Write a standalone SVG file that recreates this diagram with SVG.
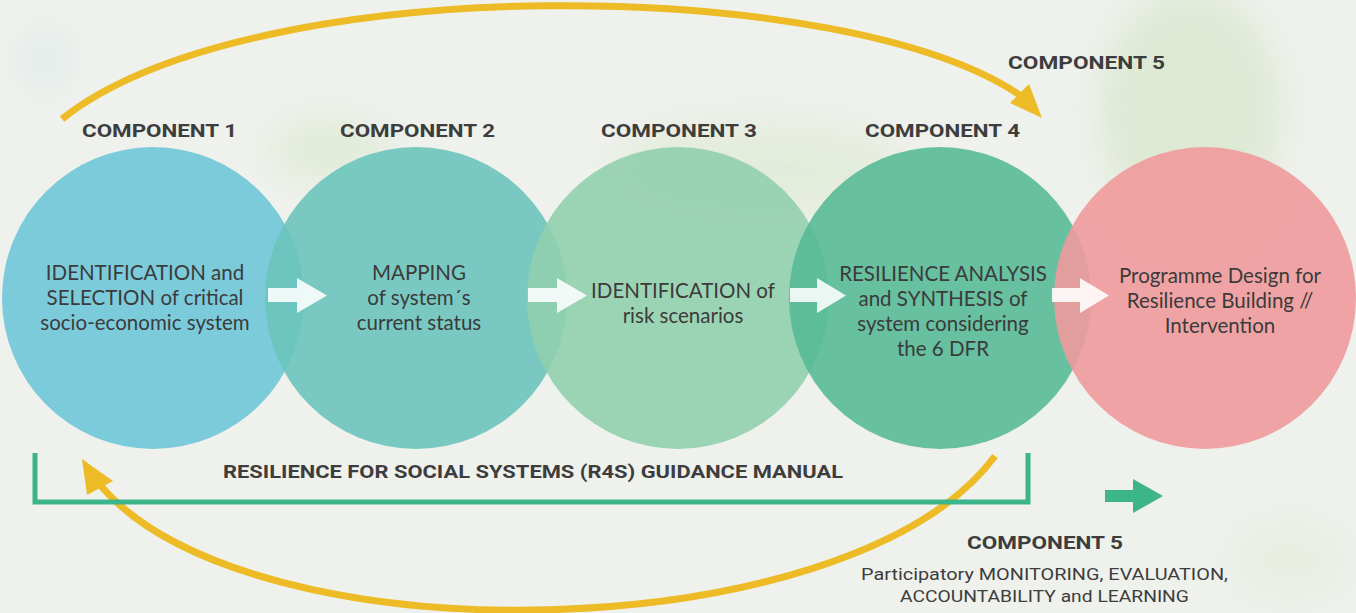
<svg xmlns="http://www.w3.org/2000/svg" width="1356" height="613" viewBox="0 0 1356 613">
<defs>
<filter id="blur" x="-50%" y="-50%" width="200%" height="200%"><feGaussianBlur stdDeviation="18"/></filter>
<style>
.hd{font-family:Roboto,"Liberation Sans",sans-serif;font-weight:700;font-size:18px;fill:#3d3d3d}
.bd{font-family:Lato,"Open Sans",sans-serif;font-size:20.5px;fill:#3b3b3b;text-anchor:middle}
.sm{font-family:Roboto,"Liberation Sans",sans-serif;font-size:17px;fill:#3d3d3d}
.wa{fill:#ffffff;fill-opacity:0.88}
.yl{fill:#ecbb26}
.ys{fill:none;stroke:#ecbb26;stroke-width:7}
</style>
</defs>
<rect width="1356" height="613" fill="#eff1ed"/>
<g filter="url(#blur)" opacity="0.55">
<ellipse cx="1190" cy="110" rx="90" ry="120" fill="#cfe3bf"/>
<ellipse cx="760" cy="170" rx="150" ry="50" fill="#dbe9cf"/>
<ellipse cx="330" cy="150" rx="60" ry="30" fill="#d5e7c6"/>
<ellipse cx="45" cy="60" rx="18" ry="28" fill="#cde3e6"/>
<ellipse cx="1290" cy="560" rx="60" ry="40" fill="#e2ecd9"/>
</g>
<g id="connectors">
<path class="ys" d="M62,119 C250,-31 850,-26 1024,98"/>
<polygon class="yl" points="1029,84 1042,118 1010,103"/>
<path class="ys" d="M995,456 C850,651 250,661 101,486"/>
<polygon class="yl" points="82,459 113,481 87,495"/>
<polyline points="35,453 35,502 1028,502 1028,453" fill="none" stroke="#3cb58a" stroke-width="5"/>
<polygon points="1105,490 1133,490 1133,479 1163,496 1133,513 1133,502 1105,502" fill="#3cb58a"/>
</g>
<g id="node1">
<circle cx="153" cy="298" r="151" fill="#7ccbdb"/>
<text class="hd" x="82" y="137" textLength="155" lengthAdjust="spacingAndGlyphs">COMPONENT 1</text>
</g>
<g id="node2">
<circle cx="416" cy="298" r="151" fill="#6cc4bd" fill-opacity="0.9"/>
<text class="hd" x="340" y="137" textLength="155" lengthAdjust="spacingAndGlyphs">COMPONENT 2</text>
</g>
<g id="node3">
<circle cx="678" cy="298" r="151" fill="#90cfad" fill-opacity="0.88"/>
<text class="hd" x="601" y="137" textLength="156" lengthAdjust="spacingAndGlyphs">COMPONENT 3</text>
</g>
<g id="node4">
<circle cx="940" cy="298" r="151" fill="#58ba96" fill-opacity="0.9"/>
<text class="hd" x="865" y="137" textLength="155" lengthAdjust="spacingAndGlyphs">COMPONENT 4</text>
</g>
<g id="node5">
<circle cx="1205" cy="298" r="151" fill="#ef9a9b" fill-opacity="0.9"/>
<text class="hd" x="1008" y="69" textLength="157" lengthAdjust="spacingAndGlyphs">COMPONENT 5</text>
</g>
<g id="arrows">
<polygon class="wa" points="268,288 297,288 297,278 327,295.5 297,313 297,302 268,302"/>
<polygon class="wa" points="528,288 557,288 557,278 587,295.5 557,313 557,302 528,302"/>
<polygon class="wa" points="790,288 817,288 817,278 846,295.5 817,313 817,302 790,302"/>
<polygon class="wa" points="1052,288 1080,288 1080,278 1109,295.5 1080,313 1080,302 1052,302"/>
</g>
<g id="labels">
<text class="bd" x="145" y="280">IDENTIFICATION and</text>
<text class="bd" x="145" y="305">SELECTION of critical</text>
<text class="bd" x="145" y="330">socio-economic system</text>
<text class="bd" x="419" y="280">MAPPING</text>
<text class="bd" x="419" y="305">of system´s</text>
<text class="bd" x="419" y="330">current status</text>
<text class="bd" x="683" y="298">IDENTIFICATION of</text>
<text class="bd" x="683" y="323">risk scenarios</text>
<text class="bd" x="943" y="281">RESILIENCE ANALYSIS</text>
<text class="bd" x="943" y="306">and SYNTHESIS of</text>
<text class="bd" x="943" y="331">system considering</text>
<text class="bd" x="943" y="356">the 6 DFR</text>
<text class="bd" x="1220" y="283">Programme Design for</text>
<text class="bd" x="1220" y="308">Resilience Building //</text>
<text class="bd" x="1220" y="333">Intervention</text>
</g>
<g id="guide">
<text class="hd" x="223" y="478" textLength="620" lengthAdjust="spacingAndGlyphs">RESILIENCE FOR SOCIAL SYSTEMS (R4S) GUIDANCE MANUAL</text>
</g>
<g id="component5b">
<text class="hd" x="967" y="549" textLength="156" lengthAdjust="spacingAndGlyphs">COMPONENT 5</text>
<text class="sm" x="861" y="580" textLength="367" lengthAdjust="spacingAndGlyphs">Participatory MONITORING, EVALUATION,</text>
<text class="sm" x="900" y="602" textLength="289" lengthAdjust="spacingAndGlyphs">ACCOUNTABILITY and LEARNING</text>
</g>
</svg>
